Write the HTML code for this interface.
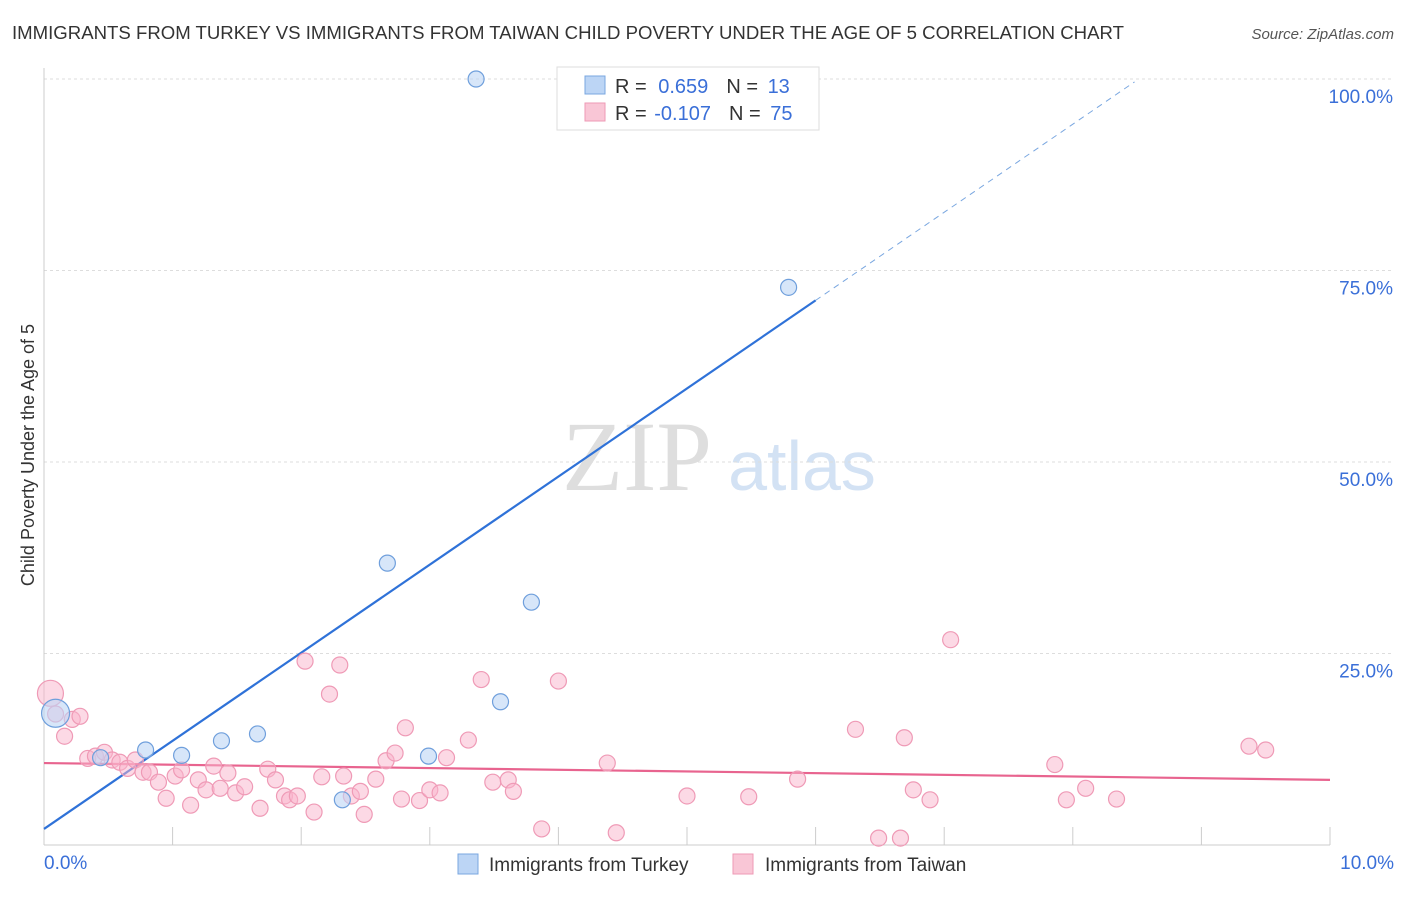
<!DOCTYPE html>
<html><head><meta charset="utf-8"><style>
body{margin:0;background:#fff;font-family:"Liberation Sans",sans-serif;}
svg text{font-family:"Liberation Sans",sans-serif;}
</style></head><body>
<svg id="chart" width="1406" height="892">
<text x="12" y="39" font-size="18.6" fill="#333">IMMIGRANTS FROM TURKEY VS IMMIGRANTS FROM TAIWAN CHILD POVERTY UNDER THE AGE OF 5 CORRELATION CHART</text>
<text x="1394" y="39" font-size="15" fill="#555" font-style="italic" text-anchor="end">Source: ZipAtlas.com</text>
<text transform="translate(34,455) rotate(-90)" font-size="18" fill="#333" text-anchor="middle">Child Poverty Under the Age of 5</text>
<g>
<text x="637" y="490" font-size="100" fill="#dedede" style="font-family:'Liberation Serif',serif" text-anchor="middle">ZIP</text>
<text x="802" y="490" font-size="70" fill="#d3e2f4" text-anchor="middle">atlas</text>
</g>
<g id="grid"></g><g id="axes"></g><g id="lines"></g><g id="pts"></g>
<g>
<rect x="557" y="67" width="262" height="63" fill="#fff" stroke="#ddd"/>
<rect x="585" y="76" width="20" height="18" fill="#bcd5f5" stroke="#7aa7e0"/>
<rect x="585" y="103" width="20" height="18" fill="#f9c6d6" stroke="#ee9ab5"/>
<text x="615" y="93" font-size="20" fill="#333">R = <tspan fill="#3a6fd8" dx="6">0.659</tspan><tspan dx="18">N = </tspan><tspan fill="#3a6fd8" dx="4">13</tspan></text>
<text x="615" y="120" font-size="20" fill="#333">R = <tspan fill="#3a6fd8" dx="2">-0.107</tspan><tspan dx="18">N = </tspan><tspan fill="#3a6fd8" dx="4">75</tspan></text>
</g>
<g>
<rect x="458" y="854" width="20" height="20" fill="#bcd5f5" stroke="#7aa7e0"/>
<text x="489" y="871" font-size="19" fill="#333">Immigrants from Turkey</text>
<rect x="733" y="854" width="20" height="20" fill="#f9c6d6" stroke="#ee9ab5"/>
<text x="765" y="871" font-size="19" fill="#333">Immigrants from Taiwan</text>
</g>
</svg>
<script>
const yTicks=[25,50,75,100];
const yTickLabels=["25.0%","50.0%","75.0%","100.0%"];
const xTickCount=10;
const turkeyX=[3.36,5.79,2.67,3.79,3.55,1.66,1.38,0.79,1.07,2.99,0.44,2.32,0.09];
const turkeyY=[100,72.8,36.8,31.7,18.7,14.5,13.6,12.4,11.7,11.6,11.4,5.9,17.2];
const taiwanX=[0.05,0.09,0.22,0.28,0.16,0.34,0.40,0.47,0.53,0.59,0.65,0.71,0.77,0.82,0.89,0.95,1.02,1.07,1.14,1.20,1.26,1.32,1.37,1.43,1.49,1.56,1.68,1.74,1.80,1.87,1.91,1.97,2.03,2.10,2.16,2.22,2.30,2.33,2.39,2.46,2.49,2.58,2.66,2.73,2.78,2.81,2.92,3.00,3.08,3.13,3.30,3.40,3.49,3.61,3.65,3.87,4.00,4.38,4.45,5.00,5.48,5.86,6.31,6.49,6.66,6.69,6.76,6.89,7.05,7.86,7.95,8.10,8.34,9.37,9.50];
const taiwanY=[19.8,17.1,16.4,16.8,14.2,11.3,11.6,12.1,11.1,10.8,10.0,11.1,9.5,9.5,8.2,6.1,9.0,9.8,5.2,8.5,7.2,10.3,7.4,9.4,6.8,7.6,4.8,9.9,8.5,6.4,5.9,6.4,24.0,4.3,8.9,19.7,23.5,9.0,6.4,7.0,4.0,8.6,11.0,12.0,6.0,15.3,5.8,7.2,6.8,11.4,13.7,21.6,8.2,8.5,7.0,2.1,21.4,10.7,1.6,6.4,6.3,8.6,15.1,0.9,0.9,14.0,7.2,5.9,26.8,10.5,5.9,7.4,6.0,12.9,12.4];
const turkeyTrend=[2.1,11.5];
const taiwanTrend=[10.7,-0.22];
const X0=44,X1=1330,Y0=845,Y100=79;
const sx=v=>X0+(X1-X0)*v/10, sy=v=>Y0-(Y0-Y100)*v/100;
const NS="http://www.w3.org/2000/svg";
function mk(parent,tag,attrs){const e=document.createElementNS(NS,tag);for(const k in attrs)e.setAttribute(k,attrs[k]);document.getElementById(parent).appendChild(e);return e;}
let e;
e=mk('axes','line',{x1:X0,y1:68,x2:X0,y2:Y0,stroke:'#ccc'});


e=mk('axes','line',{x1:X0,y1:Y0,x2:X1,y2:Y0,stroke:'#ccc'});


yTicks.forEach((t,i)=>{
 e=mk('grid','line',{x1:X0,y1:sy(t),x2:1394,y2:sy(t),stroke:'#ddd','stroke-dasharray':'3,3'});
 
 
 e=mk('axes','text',{x:1393,y:sy(t)+24,'font-size':19,fill:'#3a6fd8','text-anchor':'end'});
 e.textContent=yTickLabels[i];
 
 
});
for(let i=1;i<=xTickCount;i++){
 e=mk('axes','line',{x1:sx(i),y1:Y0,x2:sx(i),y2:Y0-18,stroke:'#ccc'});
 
 
}
e=mk('axes','text',{x:44,y:869,'font-size':19,fill:'#3a6fd8'});e.textContent='0.0%';


e=mk('axes','text',{x:1394,y:869,'font-size':19,fill:'#3a6fd8','text-anchor':'end'});e.textContent='10.0%';


const tY=x=>turkeyTrend[0]+turkeyTrend[1]*x;
const xs=6.0, xe=8.48;
e=mk('lines','line',{x1:sx(0),y1:sy(tY(0)),x2:sx(xs),y2:sy(tY(xs)),stroke:'#2f72d8','stroke-width':2.2});


e=mk('lines','line',{x1:sx(xs),y1:sy(tY(xs)),x2:sx(xe),y2:sy(tY(xe)),stroke:'#7aa7e0','stroke-width':1,'stroke-dasharray':'6,5'});


e=mk('lines','line',{x1:sx(0),y1:sy(taiwanTrend[0]),x2:sx(10),y2:sy(taiwanTrend[0]+taiwanTrend[1]*10),stroke:'#e8648f','stroke-width':2.2});


taiwanX.forEach((x,i)=>{
 e=mk('pts','circle',{cx:sx(x),cy:sy(taiwanY[i]),r:i<1?13:8,fill:'rgba(249,180,204,0.5)',stroke:'#ef9ab6','stroke-width':1.2});
 
 
});
turkeyX.forEach((x,i)=>{
 e=mk('pts','circle',{cx:sx(x),cy:sy(turkeyY[i]),r:i==12?14:8,fill:'rgba(188,213,245,0.6)',stroke:'#6f9fdc','stroke-width':1.2});
 
 
});
</script>
</body></html>
